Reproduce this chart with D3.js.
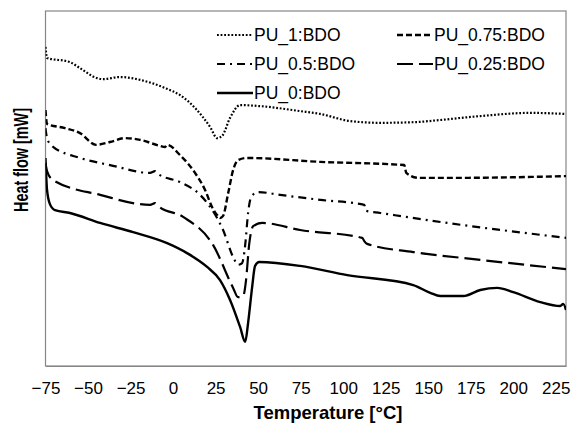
<!DOCTYPE html>
<html>
<head>
<meta charset="utf-8">
<script src="https://cdn.jsdelivr.net/npm/d3@7"></script>
<style>
  body { margin: 0; background: #fff; }
  text { font-family: "Liberation Sans", Arial, sans-serif; fill: #000; }
</style>
</head>
<body>
<div id="chart"></div>
<script>
// DSC curves, [temperature °C, heat flow (arbitrary, shifted)]
var pu1 = [[-75, 89.9], [-74.1, 86.8], [-60.6, 85.6], [-54.7, 83.9], [-44.7, 81.1], [-41.2, 80.8],
    [-31.2, 81.4], [-19.4, 80.6], [-4.7, 78.3], [4.1, 76.3], [12.9, 72.7], [21.8, 67.3], [25.9, 64.2],
    [28.8, 64.8], [33.5, 69.9], [39.4, 73.5], [51.2, 73.2], [74.7, 71.8], [86.5, 71.0], [104.1, 69.0],
    [121.8, 68.5], [142.4, 68.7], [157.1, 69.3], [180.6, 70.4], [210, 71.3], [231, 71.0]];

var pu075 = [[-75, 72.1], [-74.1, 68.2], [-63.5, 67.0], [-54.7, 65.6], [-45.3, 62.3], [-37.1, 63.1],
    [-28.2, 64.2], [-19.4, 63.7], [-7.6, 62.0], [-4.7, 61.7], [-3.5, 62.3], [4.1, 59.4], [12.9, 54.4],
    [18.8, 49.6], [22.9, 44.8], [25.9, 42.5], [27.6, 41.7], [29.4, 42.3], [32.4, 48.7], [35.3, 55.2],
    [38.2, 58.0], [43.5, 58.6], [86.5, 57.5], [135.9, 56.6], [137.1, 54.4], [144.1, 53.0], [168.8, 53.0],
    [231, 53.5]];

var pu05 = [[-75, 67.0], [-74.1, 64.2], [-71.2, 62.0], [-54.7, 58.6], [-37.1, 56.6], [-13.5, 54.4],
    [-10.6, 54.9], [-8.8, 54.1], [4.1, 51.8], [15.9, 48.2], [21.8, 44.8], [29.4, 38.3], [35.3, 30.7],
    [38.2, 28.5], [40.6, 29.0], [42.4, 34.1], [44.1, 43.1], [45.9, 47.6], [50, 49.0], [62.9, 48.2],
    [86.5, 46.8], [112.4, 45.4], [113.5, 43.7], [121.8, 43.1], [161.2, 40.3], [231, 36.1]];

var pu025 = [[-75, 57.2], [-74.1, 54.9], [-70.6, 52.4], [-42.9, 48.2], [-13.5, 45.4], [-10.6, 45.9],
    [-8.8, 45.1], [5.9, 42.0], [23.5, 34.1], [35.3, 22.0], [38.2, 19.4], [41.2, 19.7], [42.9, 24.2],
    [44.7, 34.1], [47.1, 39.4], [52.4, 40.3], [74.7, 38.3], [111.2, 36.1], [112.4, 35.2], [114.1, 34.4],
    [141.2, 32.1], [180.6, 29.9], [231, 27.3]];

var pu0 = [[-75, 58.6], [-74.1, 49.6], [-72.4, 45.6], [-69.4, 43.9], [-60.6, 43.1], [-42.9, 40.3],
    [-23.5, 37.7], [-3.5, 34.6], [8.2, 31.8], [20, 27.9], [27.6, 24.2], [33.5, 18.6], [39.4, 11.0],
    [42.4, 6.8], [44.1, 12.1], [46.5, 22.3], [48.2, 28.2], [50.6, 29.3], [74.7, 28.2], [102.4, 25.6],
    [141.2, 22.8], [151.2, 20.6], [157.1, 19.7], [170.6, 19.7], [180.6, 21.4], [190.6, 22.0],
    [200, 20.8], [215.9, 18.0], [227.6, 16.9], [229.4, 17.5], [231, 15.8]];

var seriesNames = ["PU_1:BDO", "PU_0.75:BDO", "PU_0.5:BDO", "PU_0.25:BDO", "PU_0:BDO"];
var xTicks = [-75, -50, -25, 0, 25, 50, 75, 100, 125, 150, 175, 200, 225];

var series = [
    {name: seriesNames[0], values: pu1, dash: "1.8,1.8", w: 2.2},
    {name: seriesNames[1], values: pu075, dash: "6,3", w: 2.4},
    {name: seriesNames[2], values: pu05, dash: "8,5,2,5", w: 2.2},
    {name: seriesNames[3], values: pu025, dash: "16,6", w: 2.2},
    {name: seriesNames[4], values: pu0, dash: null, w: 2.4}
];

var width = 573, height = 423;
var margin = {top: 11, right: 7, bottom: 57, left: 45.5};

var svg = d3.select("#chart")
    .append("svg")
    .attr("width", width)
    .attr("height", height);

var x = d3.scaleLinear()
    .domain([-75, 231])
    .range([margin.left, width - margin.right]);

var y = d3.scaleLinear()
    .domain([0, 100])
    .range([height - margin.bottom, margin.top]);

svg.append("clipPath")
    .attr("id", "plot-clip")
    .append("rect")
    .attr("x", margin.left)
    .attr("y", margin.top)
    .attr("width", width - margin.left - margin.right)
    .attr("height", height - margin.top - margin.bottom);

// plot area frame
svg.append("rect")
    .attr("x", margin.left)
    .attr("y", margin.top)
    .attr("width", width - margin.left - margin.right)
    .attr("height", height - margin.top - margin.bottom)
    .attr("fill", "none")
    .attr("stroke", "#868686")
    .attr("stroke-width", 1.2);

// X axis
var xAxis = svg.append("g")
    .attr("transform", "translate(0," + (height - margin.bottom) + ")")
    .call(d3.axisBottom(x).tickValues(xTicks).tickSize(0).tickPadding(16));
xAxis.select(".domain").attr("stroke", "#868686").attr("stroke-width", 1.2);
xAxis.selectAll("text")
    .style("font-family", "Liberation Sans, Arial, sans-serif")
    .style("font-size", "17px")
    .attr("fill", "#000");

// axis titles
svg.append("text")
    .attr("x", 328)
    .attr("y", 419)
    .attr("text-anchor", "middle")
    .style("font-size", "18.5px")
    .style("font-weight", "bold")
    .text("Temperature [°C]");

// y title is squeezed along its length in the original
svg.append("text")
    .attr("transform", "translate(27.5,160) rotate(-90) scale(0.72,1)")
    .attr("text-anchor", "middle")
    .style("font-size", "20px")
    .style("font-weight", "bold")
    .text("Heat flow [mW]");

var line = d3.line()
    .curve(d3.curveMonotoneX)
    .x(function (d) { return x(d[0]); })
    .y(function (d) { return y(d[1]); });

var plot = svg.append("g").attr("clip-path", "url(#plot-clip)");

series.forEach(function (s) {
    plot.append("path")
        .datum(s.values)
        .attr("fill", "none")
        .attr("stroke", "#000")
        .attr("stroke-width", s.w)
        .attr("stroke-dasharray", s.dash)
        .attr("d", line);
});

// legend
var legendPos = [[217, 35], [397, 35], [217, 64], [397, 64], [217, 93]];
series.forEach(function (s, i) {
    var g = svg.append("g")
        .attr("transform", "translate(" + legendPos[i][0] + "," + legendPos[i][1] + ")");
    g.append("line")
        .attr("x1", 0)
        .attr("x2", 36)
        .attr("stroke", "#000")
        .attr("stroke-width", s.w)
        .attr("stroke-dasharray", s.dash);
    g.append("text")
        .attr("x", 37)
        .attr("y", 6)
        .style("font-size", "17.5px")
        .text(s.name);
});
</script>
</body>
</html>
